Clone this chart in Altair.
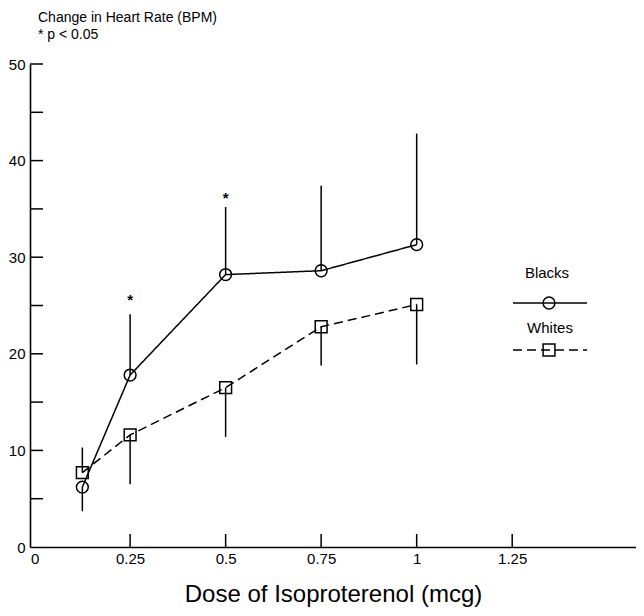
import altair as alt
import pandas as pd

# ---- data ----
doses = [0.125, 0.25, 0.5, 0.75, 1.0]
blacks = [6.2, 17.8, 28.2, 28.6, 31.3]
whites = [7.7, 11.6, 16.5, 22.8, 25.1]
blacks_err_end = [3.7, 24.1, 35.2, 37.4, 42.8]
whites_err_end = [10.3, 6.5, 11.4, 18.8, 18.9]
star_doses = [0.25, 0.5]
star_values = [25.9, 36.4]
x_tick_values = [0, 0.25, 0.5, 0.75, 1.0, 1.25]
y_label_values = [0, 10, 20, 30, 40, 50]
y_minor_ticks = [5, 10, 15, 20, 25, 30, 35, 40, 45, 50]
x_minor_ticks = [0.25, 0.5, 0.75, 1.0, 1.25]

groups = ["Blacks", "Whites"]
rows = []
for g, vals, ends in [("Blacks", blacks, blacks_err_end), ("Whites", whites, whites_err_end)]:
    for d, v, e in zip(doses, vals, ends):
        rows.append({"dose": d, "value": v, "err_end": e, "group": g})
df = pd.DataFrame(rows)
stars = pd.DataFrame({"dose": star_doses, "value": star_values})
yt = pd.DataFrame({"v": y_minor_ticks})
xt = pd.DataFrame({"v": x_minor_ticks})
one = pd.DataFrame({"k": [0]})

FONT = "Liberation Sans"
W, H = 606, 483

xscale = alt.Scale(domain=[-0.012, 1.574], nice=False, zero=False)
yscale = alt.Scale(domain=[0, 50], nice=False)

x_enc = alt.X("dose:Q", scale=xscale, axis=alt.Axis(
    values=x_tick_values, format=".2~f", ticks=False, tickSize=0, grid=False,
    domainColor="black", domainWidth=1.6, labelFont=FONT, labelFontSize=15,
    labelColor="black", labelPadding=4, labelFlush=False,
    title="Dose of Isoproterenol  (mcg)", titleFont=FONT, titleFontSize=24,
    titleFontWeight="normal", titleColor="black", titleY=47, titleBaseline="middle"))
y_enc = alt.Y("value:Q", scale=yscale, axis=alt.Axis(
    values=y_label_values, ticks=False, tickSize=0, grid=False,
    domainColor="black", domainWidth=1.6, labelFont=FONT, labelFontSize=15,
    labelColor="black", labelPadding=5, labelFlush=False, title=None))

base = alt.Chart(df)

dash = alt.StrokeDash("group:N", scale=alt.Scale(domain=groups, range=[[1, 0], [9, 5]]), legend=None)
lines = base.mark_line(color="black", strokeWidth=1.5).encode(x=x_enc, y=y_enc, strokeDash=dash, detail="group:N")

errs = base.mark_rule(color="black", strokeWidth=1.5).encode(
    x="dose:Q", y="value:Q", y2="err_end:Q")

points = base.mark_point(filled=False, color="black", strokeWidth=1.5, opacity=1).encode(
    x="dose:Q", y="value:Q",
    shape=alt.Shape("group:N", scale=alt.Scale(domain=groups, range=["circle", "square"]), legend=None),
    size=alt.Size("group:N", scale=alt.Scale(domain=groups, range=[140, 140]), legend=None))

star_marks = alt.Chart(stars).mark_text(text="*", font=FONT, fontSize=15, fontWeight="bold",
                                        color="black", baseline="middle", dy=3).encode(
    x="dose:Q", y="value:Q")

ytick_marks = alt.Chart(yt).mark_rule(color="black", strokeWidth=1.5).encode(
    y=alt.Y("v:Q", scale=yscale), x=alt.value(0), x2=alt.value(13))
xtick_marks = alt.Chart(xt).mark_rule(color="black", strokeWidth=1.5).encode(
    x=alt.X("v:Q", scale=xscale), y=alt.value(H), y2=alt.value(H - 13))

def txt(s, x, y, size=15, align="left"):
    return alt.Chart(one).mark_text(text=s, font=FONT, fontSize=size, color="black",
                                    align=align, baseline="middle").encode(x=alt.value(x), y=alt.value(y))

ylab = txt("Change in Heart Rate  (BPM)", 8, -46, size=14)
plab = txt("* p < 0.05", 8, -29, size=14)

leg_b_text = txt("Blacks", 517, 209, align="center")
leg_b_line = alt.Chart(one).mark_rule(color="black", strokeWidth=1.5).encode(
    x=alt.value(483), x2=alt.value(557), y=alt.value(239))
leg_b_pt = alt.Chart(one).mark_point(shape="circle", filled=False, color="black", size=140,
                                     strokeWidth=1.5, opacity=1).encode(x=alt.value(519), y=alt.value(239))
leg_w_text = txt("Whites", 520, 264, align="center")
leg_w_line = alt.Chart(one).mark_rule(color="black", strokeWidth=1.5, strokeDash=[9, 5]).encode(
    x=alt.value(483), x2=alt.value(557), y=alt.value(286))
leg_w_pt = alt.Chart(one).mark_point(shape="square", filled=False, color="black", size=140,
                                     strokeWidth=1.5, opacity=1).encode(x=alt.value(519), y=alt.value(286))

chart = alt.layer(
    lines, errs, points, star_marks, ytick_marks, xtick_marks, ylab, plab,
    leg_b_text, leg_b_line, leg_b_pt, leg_w_text, leg_w_line, leg_w_pt
).properties(
    width=W, height=H,
    padding={"left": 22, "top": 56, "right": 0, "bottom": 61},
    autosize=alt.AutoSizeParams(type="none"),
    background="white"
).configure_view(stroke=None)

chart.save("out.html", embed_options={"renderer": "svg", "actions": False})
